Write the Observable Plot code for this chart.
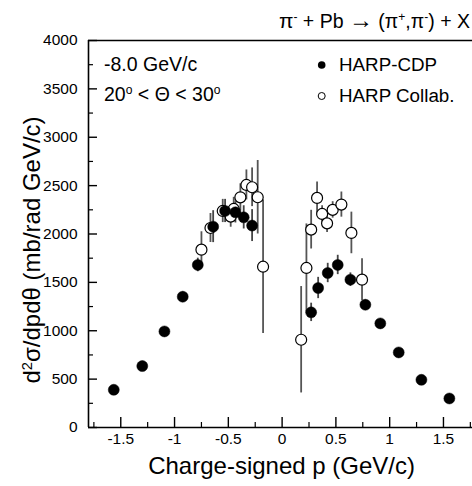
<!DOCTYPE html>
<html><head><meta charset="utf-8">
<script src="https://cdn.jsdelivr.net/npm/d3@7"></script>
<script src="https://cdn.jsdelivr.net/npm/@observablehq/plot@0.6"></script>
<style>body{margin:0;background:#fff}#chart{width:472px;height:486px}</style>
</head><body><div id="chart"></div>
<script>
// HARP-CDP (filled)
const cdpP   = [-1.565, -1.30, -1.094, -0.924, -0.784, -0.641, -0.53, -0.434, -0.357, -0.279, 0.27, 0.335, 0.424, 0.517, 0.635, 0.774, 0.913, 1.084, 1.295, 1.555];
const cdpV   = [390, 635, 993, 1352, 1680, 2076, 2238, 2224, 2172, 2087, 1190, 1442, 1597, 1680, 1528, 1269, 1076, 776, 493, 300];
const cdpErr = [20, 30, 40, 50, 70, 165, 120, 110, 120, 165, 95, 110, 100, 100, 70, 50, 40, 30, 20, 15];
// HARP Collab. (open)
const colP   = [-0.75, -0.666, -0.552, -0.478, -0.45, -0.388, -0.332, -0.279, -0.227, -0.177, 0.177, 0.226, 0.27, 0.325, 0.372, 0.418, 0.47, 0.551, 0.644, 0.743];
const colV   = [1838, 2062, 2238, 2180, 2259, 2379, 2507, 2483, 2380, 1662, 907, 1649, 2045, 2373, 2207, 2110, 2249, 2304, 2011, 1528];
const colErr = [185, 150, 120, 110, 120, 140, 155, 200, 380, 690, 550, 455, 200, 165, 85, 95, 85, 130, 215, 215];

const xDomain = [-1.8, 1.77];
const yDomain = [0, 4000];
const xTicks = [-1.5, -1, -0.5, 0, 0.5, 1, 1.5];
const xTickLabels = ["-1.5", "-1", "-0.5", "0", "0.5", "1", "1.5"];
const xMinor = [-1.75, -1.25, -0.75, -0.25, 0.25, 0.75, 1.25, 1.75];
const yTicks = [0, 500, 1000, 1500, 2000, 2500, 3000, 3500, 4000];
const yTickLabels = ["0", "500", "1000", "1500", "2000", "2500", "3000", "3500", "4000"];
const yMinor = [250, 750, 1250, 1750, 2250, 2750, 3250, 3750];

const cdp = cdpP.map((p, i) => ({p, v: cdpV[i], e: cdpErr[i]}));
const col = colP.map((p, i) => ({p, v: colV[i], e: colErr[i]}));

const W = 472, H = 486, mL = 88, mR = 0, mT = 40, mB = 59;
const innerW = W - mL - mR, innerH = H - mT - mB;
const font = "'Liberation Sans', Arial, Helvetica, sans-serif";

const plot = Plot.plot({
  width: W, height: H,
  marginLeft: mL, marginRight: mR, marginTop: mT, marginBottom: mB,
  x: {domain: xDomain},
  y: {domain: yDomain},
  style: {fontFamily: font, fontSize: "15.5px", background: "white", color: "black", overflow: "visible"},
  marks: [
    Plot.axisX({ticks: xTicks, tickFormat: d => xTickLabels[xTicks.indexOf(d)], tickSize: 0, tickPadding: 5, label: null, fontSize: 15.5}),
    Plot.axisY({ticks: yTicks, tickFormat: d => yTickLabels[yTicks.indexOf(d)], tickSize: 0, tickPadding: 11, label: null, fontSize: 15.5}),
    Plot.tickX(xTicks, {x: d => d, insetTop: innerH - 10, strokeWidth: 1.4}),
    Plot.tickX(xMinor, {x: d => d, insetTop: innerH - 5, strokeWidth: 1.2}),
    Plot.tickY(yTicks, {y: d => d, insetRight: innerW - 9, strokeWidth: 1.4}),
    Plot.tickY(yMinor, {y: d => d, insetRight: innerW - 5, strokeWidth: 1.2}),
    Plot.ruleY([yDomain[0], yDomain[1]], {strokeWidth: 1.6}),
    Plot.ruleX([xDomain[0]], {strokeWidth: 1.6}),
    Plot.ruleX(col, {x: "p", y1: d => d.v - d.e, y2: d => d.v + d.e, stroke: "#555", strokeWidth: 1.8}),
    Plot.ruleX(cdp, {x: "p", y1: d => d.v - d.e, y2: d => d.v + d.e, stroke: "#444", strokeWidth: 1.8}),
    Plot.dot(col, {x: "p", y: "v", r: 5.5, fill: "white", stroke: "black", strokeWidth: 1.2}),
    Plot.dot(cdp, {x: "p", y: "v", r: 5.5, fill: "black", stroke: "black", strokeWidth: 0.5})
  ]
});
document.getElementById("chart").appendChild(plot);

const svg = d3.select(plot);
function addText(x, y, parts, size, anchor = "start", rotate = null) {
  const t = svg.append("text")
    .attr("x", x).attr("y", y)
    .attr("font-family", font).attr("font-size", size)
    .attr("text-anchor", anchor).attr("fill", "black");
  if (rotate !== null) t.attr("transform", `rotate(${rotate},${x},${y})`);
  parts.forEach(([s, sup, sz]) => {
    const ts = t.append("tspan").text(s);
    if (sup) ts.attr("baseline-shift", "super").attr("font-size", size * 0.62);
    if (sz) ts.attr("font-size", sz);
  });
  return t;
}
// title
addText(470, 28, [["π", 0, 21], ["-", 1], [" + Pb "], ["→", 0, 24], [" (π"], ["+", 1], [",π"], ["-", 1], [") + X"]], 19.5, "end");
// annotations
addText(104, 70.5, [["-8.0 GeV/c"]], 19.5);
addText(104, 100.5, [["20"], ["o", 1], [" < Θ < 30"], ["o", 1]], 19.5);
// legend
svg.append("circle").attr("cx", 321.7).attr("cy", 65).attr("r", 3.8).attr("fill", "black");
svg.append("circle").attr("cx", 321.7).attr("cy", 96).attr("r", 3.5).attr("fill", "white").attr("stroke", "black").attr("stroke-width", 1);
addText(339, 70.7, [["HARP-CDP"]], 18.8);
addText(339, 101.7, [["HARP Collab."]], 18.8);
// axis titles
addText(281.6, 474, [["Charge-signed p (GeV/c)"]], 24, "middle");
addText(40, 250, [["d"], ["2", 1], ["σ/dpdθ (mb/rad GeV/c)"]], 24, "middle", -90);
</script>
</body></html>
